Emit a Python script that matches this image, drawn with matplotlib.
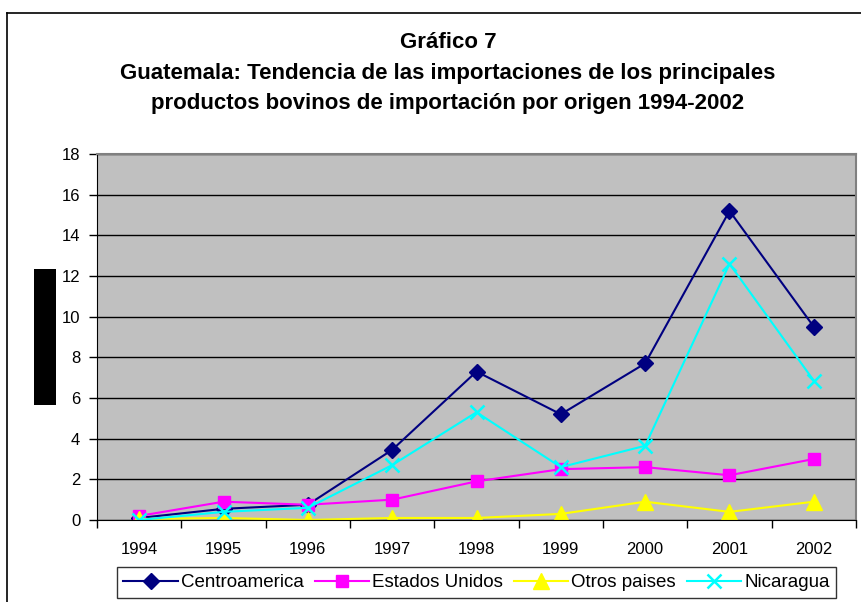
import numpy as np
import matplotlib
matplotlib.use("Agg")
import matplotlib.pyplot as plt
from matplotlib.patches import Rectangle
from matplotlib.lines import Line2D

plt.rcParams["font.family"] = ["Liberation Sans", "DejaVu Sans"]

years = ["1994", "1995", "1996", "1997", "1998", "1999", "2000", "2001", "2002"]
centroamerica = [0.1, 0.55, 0.75, 3.45, 7.3, 5.2, 7.7, 15.2, 9.5]
estados_unidos = [0.2, 0.9, 0.75, 1.0, 1.9, 2.5, 2.6, 2.2, 3.0]
otros_paises = [0.05, 0.1, 0.0, 0.1, 0.1, 0.3, 0.9, 0.4, 0.9]
nicaragua = [0.0, 0.4, 0.6, 2.7, 5.3, 2.6, 3.65, 12.6, 6.85]
yticks = [0, 2, 4, 6, 8, 10, 12, 14, 16, 18]

fig = plt.figure(figsize=(8.61, 6.02), dpi=100)
ax = fig.add_axes([97 / 861, 82 / 602, 759 / 861, 366 / 602])
ax.set_facecolor("#C0C0C0")

x = np.arange(len(years))
ax.plot(x, centroamerica, color="#000080", lw=1.5, marker="D", ms=8, label="Centroamerica")
ax.plot(x, estados_unidos, color="#FF00FF", lw=1.5, marker="s", ms=9, label="Estados Unidos")
ax.plot(x, otros_paises, color="#FFFF00", lw=1.5, marker="^", ms=11, label="Otros paises")
ax.plot(x, nicaragua, color="#00FFFF", lw=1.5, marker="x", ms=10, mew=1.8, label="Nicaragua")

ax.set_xlim(-0.5, len(years) - 0.5)
ax.set_ylim(0, 18)
ax.set_yticks(yticks)
ax.yaxis.grid(True, color="black", lw=1)
ax.set_axisbelow(True)
ax.set_xticks(x)
ax.set_xticklabels(years)
ax.set_xticks(np.arange(-0.5, len(years)), minor=True)
ax.tick_params(axis="x", which="major", length=0, pad=16, labelsize=12)
ax.tick_params(axis="x", which="minor", length=6, width=1, direction="out")
ax.tick_params(axis="y", length=6, width=1, direction="out", pad=6, labelsize=12)

for side in ["top", "right"]:
    ax.spines[side].set_color("#808080")
    ax.spines[side].set_linewidth(1.5)
ax.spines["left"].set_color("black")
ax.spines["bottom"].set_color("black")

leg = ax.legend(loc="center", bbox_to_anchor=(476.5 / 861, 19.5 / 602), bbox_transform=fig.transFigure,
                ncol=4, fontsize=13.5, frameon=True, fancybox=False, edgecolor="black",
                handlelength=2.9, handletextpad=0.15, columnspacing=0.6, borderpad=0.35)
leg.get_frame().set_linewidth(1)

tx = 448 / 861
fig.text(tx, 1 - 43 / 602, "Gráfico 7", ha="center", va="center", fontsize=16, fontweight="bold")
fig.text(tx, 1 - 74 / 602, "Guatemala: Tendencia de las importaciones de los principales",
         ha="center", va="center", fontsize=16, fontweight="bold")
fig.text(tx, 1 - 104 / 602, "productos bovinos de importación por origen 1994-2002",
         ha="center", va="center", fontsize=16, fontweight="bold")

# redacted axis label block
fig.add_artist(Rectangle((34 / 861, 1 - 405 / 602), 22 / 861, 136 / 602, transform=fig.transFigure,
                         facecolor="black", edgecolor="none"))
# outer chart border (left and top)
fig.add_artist(Line2D([7 / 861, 7 / 861], [0, 1 - 13 / 602], transform=fig.transFigure, color="black", lw=1.2))
fig.add_artist(Line2D([7 / 861, 1], [1 - 13 / 602, 1 - 13 / 602], transform=fig.transFigure, color="black", lw=1.2))

fig.savefig("out.png", dpi=100)
